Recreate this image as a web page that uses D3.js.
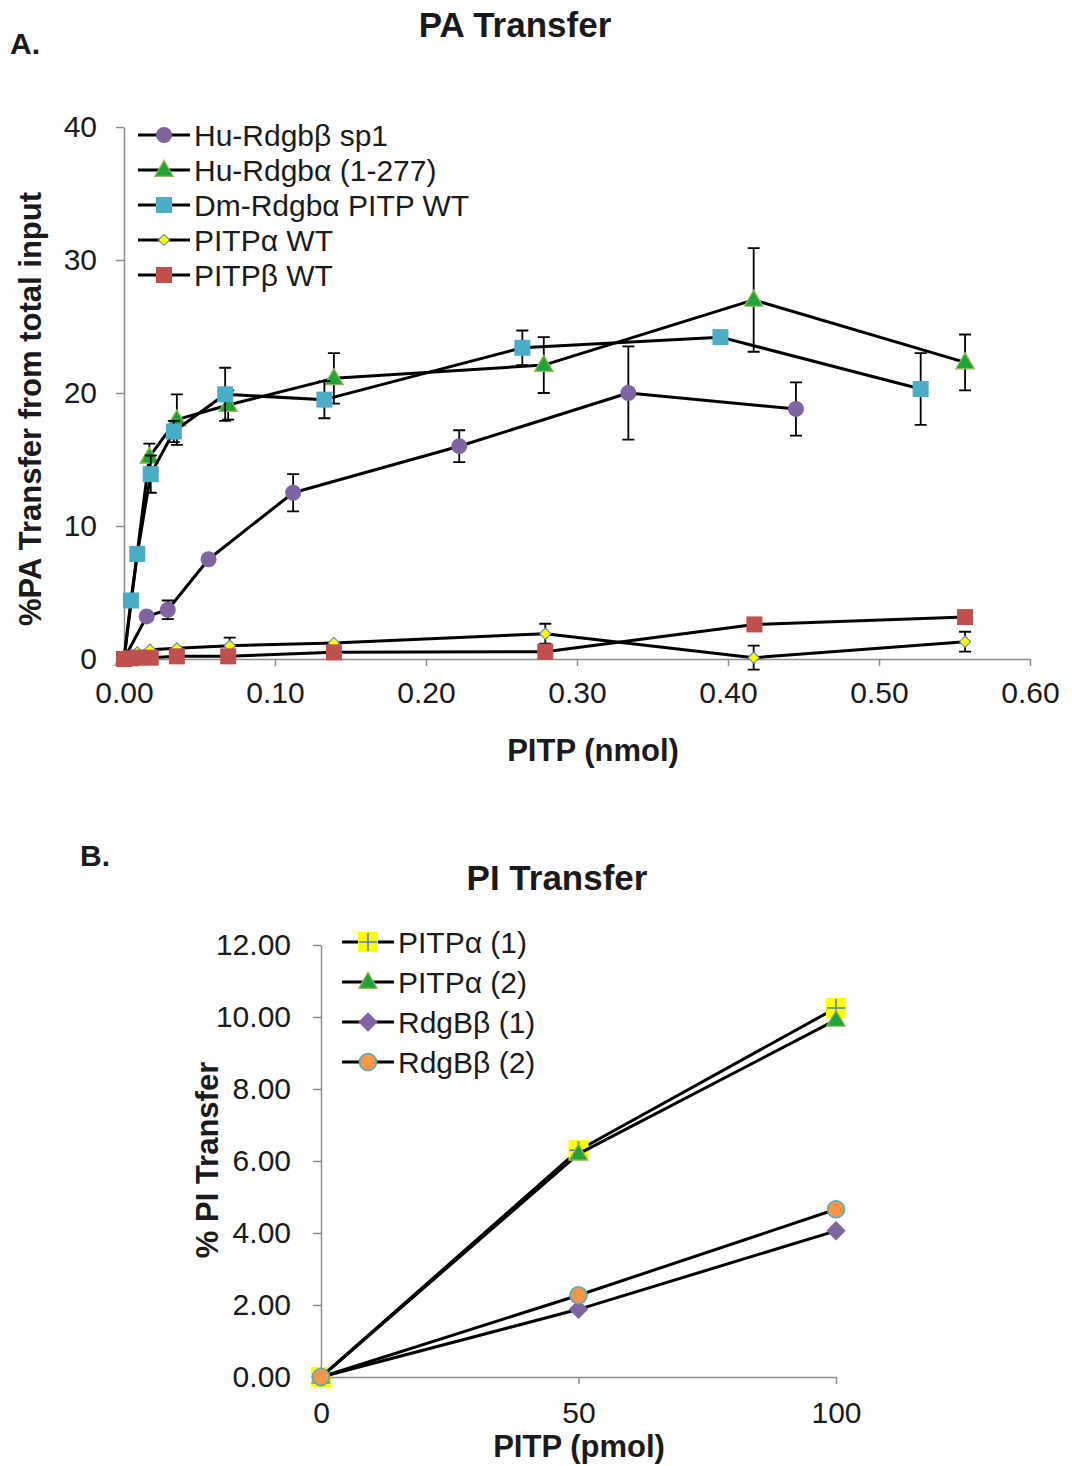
<!DOCTYPE html>
<html lang="en">
<head>
<meta charset="UTF-8">
<title>PA / PI Transfer</title>
<style>
  body { margin: 0; background: #fff; }
  svg text { font-family: "Liberation Sans", Arial, sans-serif; fill: #1a1a1a; }
</style>
</head>
<body>
<svg width="1072" height="1466" id="svg"></svg>
<script src="https://d3js.org/d3.v7.min.js"></script>
<script>
// ---- panel A data (PA transfer, nmol) ----
const aXTicks = [0, 0.1, 0.2, 0.3, 0.4, 0.5, 0.6]
const aYTicks = [0, 10, 20, 30, 40]

const huBetaX = [0, 0.015, 0.029, 0.056, 0.112, 0.222, 0.334, 0.445]
const huBetaY = [0, 3.2, 3.7, 7.5, 12.5, 16.0, 20.0, 18.8]
const huBetaErr = [0, 0, 0.7, 0, 1.4, 1.2, 3.5, 2.0]

const huAlphaX = [0, 0.0168, 0.035, 0.069, 0.139, 0.278, 0.417, 0.557]
const huAlphaY = [0, 15.2, 18.0, 19.1, 21.1, 22.1, 27.0, 22.3]
const huAlphaErr = [0, 1.0, 1.9, 1.1, 1.9, 2.1, 3.9, 2.1]

const dmAlphaX = [0, 0.0046, 0.0088, 0.0177, 0.033, 0.067, 0.1327, 0.2638, 0.395, 0.5276]
const dmAlphaY = [0, 4.4, 7.9, 13.9, 17.1, 19.9, 19.5, 23.4, 24.2, 20.3]
const dmAlphaErr = [0, 0, 0, 1.4, 0.8, 2.0, 1.4, 1.3, 0, 2.7]

const pitpAX = [0, 0.0046, 0.0088, 0.0172, 0.035, 0.070, 0.139, 0.279, 0.417, 0.557]
const pitpAY = [0, 0.3, 0.5, 0.7, 0.8, 1.0, 1.2, 1.9, 0.1, 1.3]
const pitpAErr = [0, 0, 0, 0, 0, 0.6, 0, 0.75, 0.9, 0.75]

const pitpBX = [0, 0.0046, 0.0088, 0.0177, 0.035, 0.069, 0.139, 0.279, 0.4175, 0.557]
const pitpBY = [0, 0.05, 0.1, 0.1, 0.2, 0.2, 0.5, 0.55, 2.6, 3.15]
const pitpBErr = [0, 0, 0, 0, 0, 0, 0, 0, 0, 0]

// ---- panel B data (PI transfer, pmol) ----
const bXTicks = [0, 50, 100]
const bYTicks = [0, 2, 4, 6, 8, 10, 12]
const bX = [0, 50, 100]
const pitpa1 = [0, 6.3, 10.25]
const pitpa2 = [0, 6.2, 9.92]
const rdgb1 = [0, 1.88, 4.06]
const rdgb2 = [0, 2.27, 4.66]

const svg = d3.select("svg#svg")
svg.append("rect").attr("width", 1072).attr("height", 1466).attr("fill", "#fff")

const zip = (xs, ys, es) => xs.map((x, i) => ({ x: x, y: ys[i], e: es ? es[i] : 0 }))

// marker painter
function marker(g, type, x, y) {
  if (type === "circle") {
    g.append("circle").attr("cx", x).attr("cy", y).attr("r", 8).attr("fill", "#8064A2")
  } else if (type === "triangle") {
    g.append("path").attr("transform", `translate(${x},${y + 1})`)
      .attr("d", d3.symbol(d3.symbolTriangle, 150)())
      .attr("fill", "#22A33A").attr("stroke", "#9BBB59").attr("stroke-width", 1.2)
  } else if (type === "squareBlue") {
    g.append("rect").attr("x", x - 8).attr("y", y - 8).attr("width", 16).attr("height", 16)
      .attr("fill", "#4BACC6")
  } else if (type === "squareRed") {
    g.append("rect").attr("x", x - 8).attr("y", y - 8).attr("width", 16).attr("height", 16)
      .attr("fill", "#C0504D")
  } else if (type === "diamondYellow") {
    g.append("path").attr("transform", `translate(${x},${y}) rotate(45)`)
      .attr("d", d3.symbol(d3.symbolSquare, 64)())
      .attr("fill", "#FFFF00").attr("stroke", "#4F81BD").attr("stroke-width", 1)
  } else if (type === "diamondPurple") {
    g.append("path").attr("transform", `translate(${x},${y}) rotate(45)`)
      .attr("d", d3.symbol(d3.symbolSquare, 190)())
      .attr("fill", "#8064A2")
  } else if (type === "plus") {
    g.append("rect").attr("x", x - 10).attr("y", y - 10).attr("width", 20).attr("height", 20)
      .attr("fill", "#FFFF00")
    g.append("path").attr("d", `M${x - 9},${y}H${x + 9}M${x},${y - 9}V${y + 9}`)
      .attr("stroke", "#4F81BD").attr("stroke-width", 1.6)
  } else if (type === "circleOrange") {
    g.append("circle").attr("cx", x).attr("cy", y).attr("r", 8.5)
      .attr("fill", "#F79646").attr("stroke", "#4BACC6").attr("stroke-width", 1.6)
  }
}

function drawSeries(g, data, xs, ys, type) {
  const line = d3.line().x(d => xs(d.x)).y(d => ys(d.y))
  g.append("path").datum(data).attr("d", line)
    .attr("fill", "none").attr("stroke", "#000").attr("stroke-width", 3)
    .attr("stroke-linejoin", "round")
  data.filter(d => d.e > 0).forEach(d => {
    const cx = xs(d.x), y1 = ys(d.y + d.e), y2 = ys(d.y - d.e)
    g.append("path")
      .attr("d", `M${cx},${y1}V${y2}M${cx - 6},${y1}H${cx + 6}M${cx - 6},${y2}H${cx + 6}`)
      .attr("stroke", "#000").attr("stroke-width", 1.8).attr("fill", "none")
  })
  data.forEach(d => marker(g, type, xs(d.x), ys(d.y)))
}

function styleAxis(sel) {
  sel.selectAll(".domain").attr("stroke", "#8c8c8c").attr("stroke-width", 1.5)
  sel.selectAll(".tick line").attr("stroke", "#8c8c8c").attr("stroke-width", 1.5)
  sel.selectAll(".tick text").attr("font-size", 30).attr("fill", "#1a1a1a")
    .attr("font-family", "Liberation Sans, Arial, sans-serif")
}

function legend(g, items, x0, y0, step) {
  items.forEach((it, i) => {
    const y = y0 + i * step
    g.append("line").attr("x1", x0).attr("x2", x0 + 52).attr("y1", y).attr("y2", y)
      .attr("stroke", "#000").attr("stroke-width", 3)
    marker(g, it.type, x0 + 26, y)
    g.append("text").attr("x", x0 + 56).attr("y", y + 11).attr("font-size", 30).text(it.name)
  })
}

// ================= Panel A =================
const ax = d3.scaleLinear().domain([0, 0.6]).range([124, 1030])
const ay = d3.scaleLinear().domain([0, 40]).range([659, 127])
const gA = svg.append("g")

gA.append("g").attr("transform", "translate(0,659)")
  .call(d3.axisBottom(ax).tickValues(aXTicks).tickFormat(d3.format(".2f")).tickSize(7).tickSizeOuter(0).tickPadding(16))
  .call(styleAxis)
gA.append("g").attr("transform", "translate(124,0)")
  .call(d3.axisLeft(ay).tickValues(aYTicks).tickFormat(d3.format("d")).tickSize(8).tickSizeOuter(0).tickPadding(19))
  .call(styleAxis)

drawSeries(gA, zip(huBetaX, huBetaY, huBetaErr), ax, ay, "circle")
drawSeries(gA, zip(huAlphaX, huAlphaY, huAlphaErr), ax, ay, "triangle")
drawSeries(gA, zip(dmAlphaX, dmAlphaY, dmAlphaErr), ax, ay, "squareBlue")
drawSeries(gA, zip(pitpAX, pitpAY, pitpAErr), ax, ay, "diamondYellow")
drawSeries(gA, zip(pitpBX, pitpBY, pitpBErr), ax, ay, "squareRed")

legend(gA, [
  { name: "Hu-Rdgbβ  sp1", type: "circle" },
  { name: "Hu-Rdgbα  (1-277)", type: "triangle" },
  { name: "Dm-Rdgbα PITP  WT", type: "squareBlue" },
  { name: "PITPα WT", type: "diamondYellow" },
  { name: "PITPβ WT", type: "squareRed" }
], 138, 135, 35)

svg.append("text").attr("x", 10).attr("y", 54).attr("font-size", 30).attr("font-weight", "bold").text("A.")
svg.append("text").attr("x", 515).attr("y", 37).attr("text-anchor", "middle")
  .attr("font-size", 35).attr("font-weight", "bold").text("PA Transfer")
svg.append("text").attr("x", 593).attr("y", 761).attr("text-anchor", "middle")
  .attr("font-size", 31).attr("font-weight", "bold").text("PITP (nmol)")
svg.append("text").attr("transform", "translate(41,409) rotate(-90)").attr("text-anchor", "middle")
  .attr("font-size", 31).attr("font-weight", "bold").text("%PA Transfer from total input")

// ================= Panel B =================
const bx = d3.scaleLinear().domain([0, 100]).range([321, 836])
const by = d3.scaleLinear().domain([0, 12]).range([1377, 945])
const gB = svg.append("g")

gB.append("g").attr("transform", "translate(0,1377)")
  .call(d3.axisBottom(bx).tickValues(bXTicks).tickFormat(d3.format("d")).tickSize(7).tickSizeOuter(0).tickPadding(18))
  .call(styleAxis)
gB.append("g").attr("transform", "translate(321,0)")
  .call(d3.axisLeft(by).tickValues(bYTicks).tickFormat(d3.format(".2f")).tickSize(8).tickSizeOuter(0).tickPadding(22))
  .call(styleAxis)

drawSeries(gB, zip(bX, pitpa1), bx, by, "plus")
drawSeries(gB, zip(bX, pitpa2), bx, by, "triangle")
drawSeries(gB, zip(bX, rdgb1), bx, by, "diamondPurple")
drawSeries(gB, zip(bX, rdgb2), bx, by, "circleOrange")

legend(gB, [
  { name: "PITPα (1)", type: "plus" },
  { name: "PITPα (2)", type: "triangle" },
  { name: "RdgBβ (1)", type: "diamondPurple" },
  { name: "RdgBβ (2)", type: "circleOrange" }
], 342, 942, 40)

svg.append("text").attr("x", 80).attr("y", 866).attr("font-size", 30).attr("font-weight", "bold").text("B.")
svg.append("text").attr("x", 557).attr("y", 890).attr("text-anchor", "middle")
  .attr("font-size", 35).attr("font-weight", "bold").text("PI Transfer")
svg.append("text").attr("x", 579).attr("y", 1457).attr("text-anchor", "middle")
  .attr("font-size", 31).attr("font-weight", "bold").text("PITP (pmol)")
svg.append("text").attr("transform", "translate(218,1160) rotate(-90)").attr("text-anchor", "middle")
  .attr("font-size", 31).attr("font-weight", "bold").text("% PI Transfer")
</script>
</body>
</html>
